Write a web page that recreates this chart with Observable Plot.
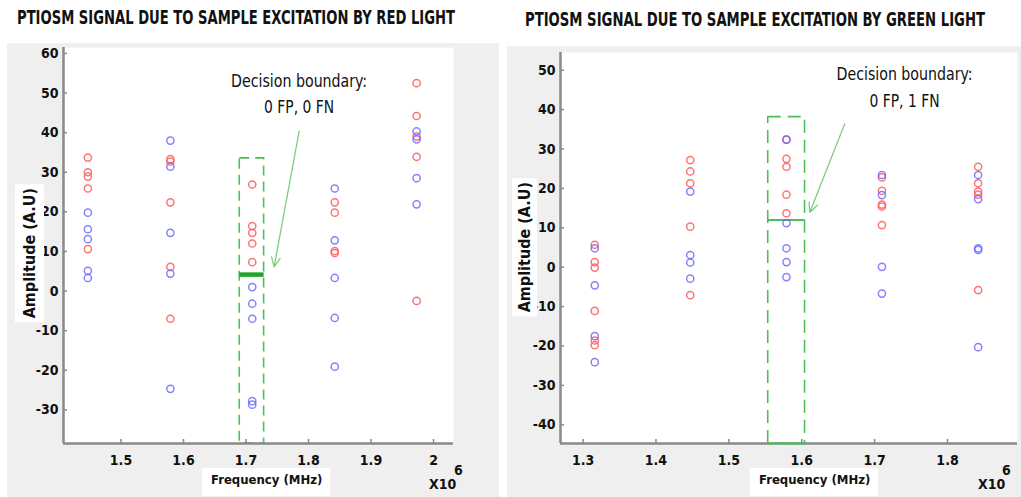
<!DOCTYPE html>
<html>
<head>
<meta charset="utf-8">
<script src="https://cdn.jsdelivr.net/npm/d3@7"></script>
<script src="https://cdn.jsdelivr.net/npm/@observablehq/plot@0.6"></script>
<style>
  html, body { margin: 0; padding: 0; background: #fff; }
  #page { position: relative; width: 1021px; height: 497px; overflow: hidden; font-family: "Liberation Sans Narrow", "DejaVu Sans Condensed", "Liberation Sans", sans-serif; }
  .gray { position: absolute; background: #efefef; }
  .title { position: absolute; font-weight: bold; font-size: 19px; color: #111; white-space: nowrap; transform-origin: 0 50%; }
  .plot { position: absolute; top: 40px; }
  .lab { position: absolute; background: #fff; font-weight: bold; color: #111; white-space: nowrap; }
  .ylab { writing-mode: vertical-rl; transform: rotate(180deg); font-size: 16px; }
  .xlab { font-size: 13px; }
  .exp { font-size: 14px; position: absolute; font-weight: bold; color: #111; }
</style>
</head>
<body>
<div id="page">
  <div class="gray" style="left:7px; top:43px; width:492px; height:454px;"></div>
  <div class="gray" style="left:507px; top:46px; width:514px; height:451px;"></div>
  <div class="title" id="t1" data-w="438" style="left:17px; top:6px;">PTIOSM SIGNAL DUE TO SAMPLE EXCITATION BY RED LIGHT</div>
  <div class="title" id="t2" data-w="460" style="left:525px; top:8px;">PTIOSM SIGNAL DUE TO SAMPLE EXCITATION BY GREEN LIGHT</div>
  <div class="plot" id="p1" style="left:0px;"></div>
  <div class="plot" id="p2" style="left:510px;"></div>
</div>
<script>
// ---------- Data: red-light panel ----------
const redFreqs = [1.447, 1.579, 1.710, 1.842, 1.973];
const redPanelRed = [
  [33.7, 30.0, 28.9, 25.9, 10.6],
  [33.3, 32.7, 22.4, 6.1, -7.0],
  [26.9, 16.4, 14.7, 12.0, 7.3],
  [22.4, 19.8, 10.1, 9.6],
  [52.5, 44.2, 39.0, 33.9, -2.5]
];
const redPanelBlue = [
  [19.8, 15.6, 13.1, 5.1, 3.3],
  [38.0, 31.4, 14.7, 4.4, -24.7],
  [1.0, -3.2, -7.0, -27.8, -28.7],
  [25.9, 12.8, 3.3, -6.8, -19.1],
  [40.3, 38.3, 28.5, 21.9]
];
const redXTicks = [1.5, 1.6, 1.7, 1.8, 1.9, 2.0];
const redYTicks = [-30, -20, -10, 0, 10, 20, 30, 40, 50, 60];
const redBoundary = {x1: 1.690, x2: 1.729, y: 4.15, boxTop: 33.5};
const redNote = {lines: ["Decision boundary:", "0 FP, 0 FN"], x: 1.785, y: [53.0, 46.3], ax1: 1.785, ay1: 40.3, ax2: 1.745, ay2: 6.1};

// ---------- Data: green-light panel ----------
const greenFreqs = [1.316, 1.447, 1.579, 1.710, 1.842];
const greenPanelRed = [
  [5.7, 1.3, -0.1, -11.1, -18.6, -19.8],
  [27.2, 24.3, 21.3, 10.3, -7.1],
  [32.4, 27.5, 25.5, 18.4, 13.7],
  [22.8, 19.4, 15.9, 15.4, 10.7],
  [25.5, 21.3, 19.2, 18.4, -5.8]
];
const greenPanelBlue = [
  [4.8, -4.6, -17.5, -24.1],
  [19.2, 3.1, 1.2, -2.9],
  [32.4, 11.2, 4.8, 1.3, -2.5],
  [23.4, 18.3, 0.1, -6.7],
  [23.4, 17.3, 4.8, 4.4, -20.3]
];
const greenXTicks = [1.3, 1.4, 1.5, 1.6, 1.7, 1.8];
const greenYTicks = [-40, -30, -20, -10, 0, 10, 20, 30, 40, 50];
const greenBoundary = {x1: 1.554, x2: 1.6045, y: 12.0, boxTop: 38.1};
const greenNote = {lines: ["Decision boundary:", "0 FP, 1 FN"], x: 1.741, y: [48.8, 42.0], ax1: 1.659, ay1: 36.4, ax2: 1.611, ay2: 13.9};

// ---------- helpers ----------
function flatten(freqs, groups, cls) {
  const out = [];
  groups.forEach((vals, i) => vals.forEach(v => out.push({f: freqs[i], a: v, c: cls})));
  return out;
}
const RED = "#ff6464", BLUE = "#6464ff";
const fmtX = d => d3.format("~g")(d);
const fmtY = d => String(d);   // plain hyphen minus, as in the reference
const H = 457, MB = 54;

function panel(cfg) {
  const reds = flatten(cfg.freqs, cfg.red, "r");
  const blues = flatten(cfg.freqs, cfg.blue, "b");
  const [xmin, xmax] = cfg.xDomain, [ymin, ymax] = cfg.yDomain;
  const b = cfg.boundary, n = cfg.note;
  // 4px inward tick length, converted to data units
  const plotW = cfg.width - cfg.ml - cfg.mr, plotH = H - cfg.mt - MB;
  const tx = (xmax - xmin) * 4 / plotW, ty = (ymax - ymin) * 4 / plotH;
  return Plot.plot({
    width: cfg.width, height: H,
    marginLeft: cfg.ml, marginRight: cfg.mr, marginTop: cfg.mt, marginBottom: MB,
    style: {background: "transparent", fontFamily: "'Liberation Sans Narrow', 'DejaVu Sans Condensed', 'Liberation Sans', sans-serif", overflow: "visible"},
    x: {domain: cfg.xDomain},
    y: {domain: cfg.yDomain},
    marks: [
      Plot.frame({fill: "white", stroke: null}),
      Plot.axisX({ticks: cfg.xTicks, tickFormat: fmtX, tickSize: 0, tickPadding: 12, fontSize: 14, fontWeight: "bold", fill: "#111", label: null}),
      Plot.axisY({ticks: cfg.yTicks, tickFormat: fmtY, tickSize: 0, tickPadding: 5, fontSize: 14, fontWeight: "bold", fill: "#111", label: null}),
      Plot.ruleX(cfg.xTicks, {x: d => d, y1: ymin, y2: ymin + ty, stroke: "#888", strokeWidth: 1.5}),
      Plot.ruleY(cfg.yTicks, {y: d => d, x1: xmin, x2: xmin + tx, stroke: "#888", strokeWidth: 1.5}),
      Plot.rect([b], {x1: "x1", x2: "x2", y1: () => ymin, y2: "boxTop", stroke: "#4cbf5a", strokeWidth: 1.6, strokeDasharray: cfg.dash, fill: "none"}),
      Plot.ruleX([xmin], {stroke: "#8a8a8a", strokeWidth: 2.5}),
      Plot.ruleY([ymin], {stroke: "#8a8a8a", strokeWidth: 2.5}),
      cfg.boxBottom ? Plot.ruleY([b], {y: () => ymin, x1: "x1", x2: "x2", stroke: "#4cbf5a", strokeWidth: 2}) : null,
      Plot.ruleY([b], {y: "y", x1: "x1", x2: "x2", stroke: cfg.bColor, strokeWidth: cfg.bWidth}),
      Plot.dot(reds, {x: "f", y: "a", r: 3.6, stroke: RED, strokeWidth: 1.5, strokeOpacity: 0.9, fill: "none"}),
      Plot.dot(blues, {x: "f", y: "a", r: 3.6, stroke: BLUE, strokeWidth: 1.5, strokeOpacity: 0.8, fill: "none"}),
      Plot.arrow([n], {x1: "ax1", y1: "ay1", x2: "ax2", y2: "ay2", stroke: "#7ccf7c", strokeWidth: 1.3, headLength: 12, headAngle: 50}),
      Plot.text(n.lines.map((t, i) => ({t, y: n.y[i], x: n.x})), {x: "x", y: "y", text: "t", fontSize: 17, fill: "#111", textAnchor: "middle", className: "note"})
    ].filter(Boolean)
  });
}

document.getElementById("p1").append(panel({
  freqs: redFreqs, red: redPanelRed, blue: redPanelBlue,
  xDomain: [1.408, 2.032], yDomain: [-38.5, 61.5],
  xTicks: redXTicks, yTicks: redYTicks,
  width: 510, ml: 63, mr: 57, mt: 7,
  boundary: redBoundary, note: redNote, dash: "10,6",
  bColor: "#1fa52a", bWidth: 4.5, boxBottom: false
}));
document.getElementById("p2").append(panel({
  freqs: greenFreqs, red: greenPanelRed, blue: greenPanelBlue,
  xDomain: [1.269, 1.896], yDomain: [-44.75, 54.5],
  xTicks: greenXTicks, yTicks: greenYTicks,
  width: 511, ml: 50, mr: 4, mt: 12,
  boundary: greenBoundary, note: greenNote, dash: "13,7",
  bColor: "#4cbf5a", bWidth: 2, boxBottom: true
}));

// condense annotation text to the reference widths
const noteWidths = {"Decision boundary:": 136, "0 FP, 0 FN": 70, "0 FP, 1 FN": 70};
document.querySelectorAll("g.note text, .note text").forEach(t => {
  const w = noteWidths[t.textContent];
  if (w) { t.setAttribute("textLength", w); t.setAttribute("lengthAdjust", "spacingAndGlyphs"); }
});
// condense titles to the reference widths
document.querySelectorAll(".title").forEach(el => {
  const w = el.getBoundingClientRect().width, target = +el.dataset.w;
  el.style.transform = `scaleX(${target / w})`;
});

// axis labels (with white boxes as in the original)
const page = document.getElementById("page");
function addLab(html, cls, style) {
  const d = document.createElement("div");
  d.className = cls; d.innerHTML = html; d.setAttribute("style", style);
  page.append(d);
}
addLab("Amplitude (A.U)", "lab ylab", "left:15px; top:184px; padding:4px 5px;");
addLab("Frequency (MHz)", "lab xlab", "left:202px; top:468px; padding:4px 8px 9px 9px;");
addLab("Amplitude (A.U)", "lab ylab", "left:512px; top:178px; padding:4px 3px;");
addLab("Frequency (MHz)", "lab xlab", "left:750px; top:468px; padding:4px 8px 9px 9px;");
addLab("X10", "exp", "left:429px; top:476px;");
addLab("6", "exp", "left:454px; top:462px;");
addLab("X10", "exp", "left:978px; top:476px;");
addLab("6", "exp", "left:1002px; top:462px;");
</script>
</body>
</html>
